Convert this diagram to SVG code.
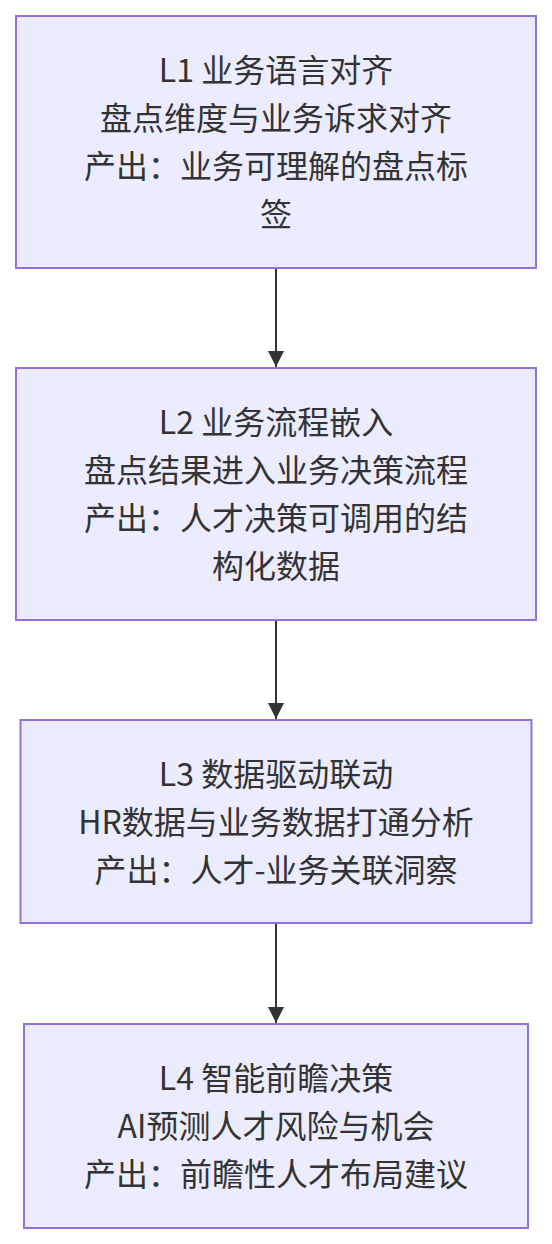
<svg xmlns="http://www.w3.org/2000/svg" width="552" height="1244" viewBox="0 0 552 1244">
<style>
.node rect{fill:#ECECFF;stroke:#9370DB;stroke-width:2}
.node text{font-family:"Noto Sans CJK SC","Noto Sans",sans-serif;font-size:32px;fill:#333;text-anchor:middle}
.edge{stroke:#333;stroke-width:2;fill:none}
</style>
<defs>
<marker id="arrow" markerUnits="userSpaceOnUse" markerWidth="16" markerHeight="16" refX="16" refY="8" orient="auto">
<path d="M0,0 L16,8 L0,16 Z" fill="#333"/>
</marker>
</defs>
<rect width="552" height="1244" fill="#fff"/>
<g id="connectors">
<line class="edge" x1="276" y1="268" x2="276" y2="367" marker-end="url(#arrow)"/>
<line class="edge" x1="276" y1="620" x2="276" y2="719" marker-end="url(#arrow)"/>
<line class="edge" x1="276" y1="923" x2="276" y2="1023" marker-end="url(#arrow)"/>
</g>
<g id="L1" class="node">
<rect x="16" y="16" width="520" height="252"/>
<text x="276"><tspan x="276" y="82">L1 业务语言对齐</tspan><tspan x="276" y="130">盘点维度与业务诉求对齐</tspan><tspan x="276" y="178">产出：业务可理解的盘点标</tspan><tspan x="276" y="226">签</tspan></text>
</g>
<g id="L2" class="node">
<rect x="16" y="368" width="520" height="252"/>
<text x="276"><tspan x="276" y="434">L2 业务流程嵌入</tspan><tspan x="276" y="482">盘点结果进入业务决策流程</tspan><tspan x="276" y="530">产出：人才决策可调用的结</tspan><tspan x="276" y="578">构化数据</tspan></text>
</g>
<g id="L3" class="node">
<rect x="20.5" y="720" width="511" height="203"/>
<text x="276"><tspan x="276" y="786">L3 数据驱动联动</tspan><tspan x="276" y="834">HR数据与业务数据打通分析</tspan><tspan x="276" y="882">产出：人才-业务关联洞察</tspan></text>
</g>
<g id="L4" class="node">
<rect x="24" y="1024" width="504" height="204"/>
<text x="276"><tspan x="276" y="1090">L4 智能前瞻决策</tspan><tspan x="276" y="1138">AI预测人才风险与机会</tspan><tspan x="276" y="1186">产出：前瞻性人才布局建议</tspan></text>
</g>
</svg>
